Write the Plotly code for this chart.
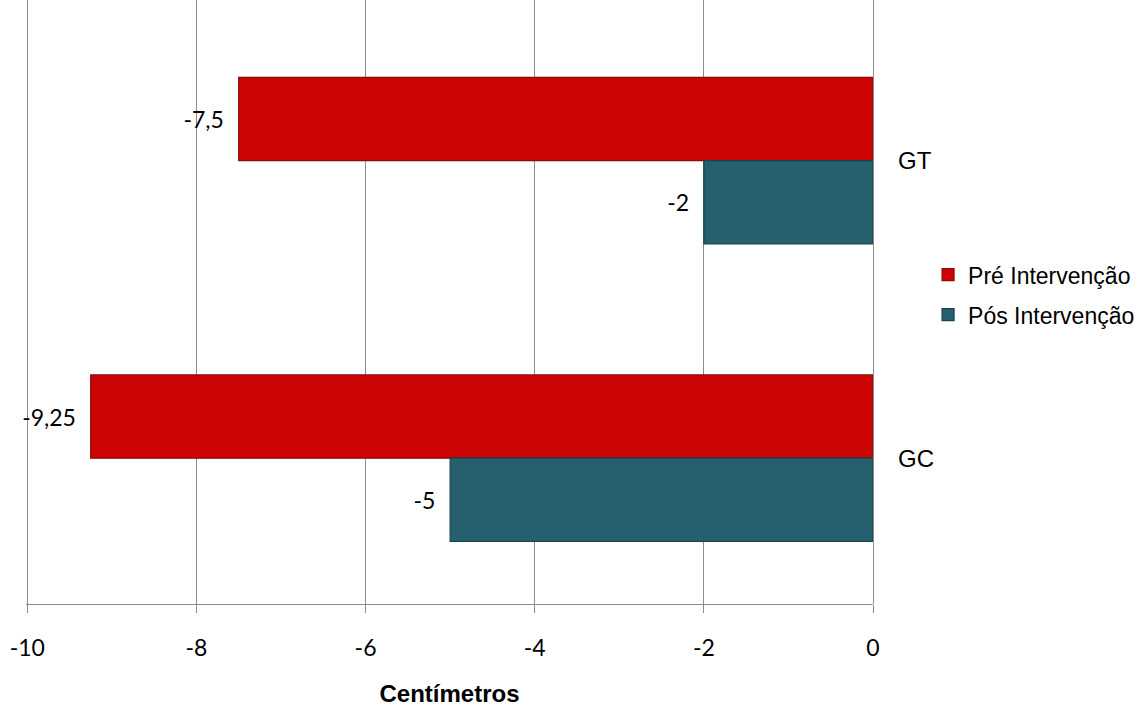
import plotly.graph_objects as go

# Chart data
grupos = ["GT", "GC"]
pre_intervencao = [-7.5, -9.25]
pos_intervencao = [-2, -5]
series_nomes = ["Pré Intervenção", "Pós Intervenção"]
x_ticks = [-10, -8, -6, -4, -2, 0]


def rotulo(v):
    # decimal comma, with some breathing room before the bar end
    return ("%g" % v).replace(".", ",") + "\u00a0\u00a0"


num_font = dict(family="Lato, Open Sans, sans-serif", size=23, color="#000000")
arial = "Liberation Sans, Arial, sans-serif"

fig = go.Figure()
fig.add_trace(go.Bar(
    y=grupos, x=pre_intervencao, orientation="h", name=series_nomes[0],
    legendgroup="pre",
    marker=dict(color="#CC0404", line=dict(color="#8E0A0A", width=1.2)),
    text=[rotulo(v) for v in pre_intervencao], textposition="outside",
    textfont=num_font, cliponaxis=False, constraintext="none",
))
fig.add_trace(go.Bar(
    y=grupos, x=pos_intervencao, orientation="h", name=series_nomes[1],
    legendgroup="pos",
    marker=dict(color="#265F6E", line=dict(color="#1A434E", width=1.2)),
    text=[rotulo(v) for v in pos_intervencao], textposition="outside",
    textfont=num_font, cliponaxis=False, constraintext="none",
))

fig.update_layout(
    width=1147, height=707,
    margin=dict(l=26, r=274, t=0, b=103),
    paper_bgcolor="white", plot_bgcolor="white",
    barmode="group", bargap=0.44, bargroupgap=0,
    showlegend=True,
    legend=dict(x=1.065, y=0.512, xanchor="left", yanchor="middle",
                font=dict(family=arial, size=23, color="#000000"),
                tracegroupgap=7, itemwidth=30),
    xaxis=dict(
        range=[-10.015, 0], tickvals=x_ticks, ticktext=[str(t) for t in x_ticks],
        showgrid=True, gridcolor="#8C8C8C", gridwidth=1.3,
        zeroline=True, zerolinecolor="#8C8C8C", zerolinewidth=1.3,
        showline=True, linecolor="#8C8C8C", linewidth=1.3,
        ticks="outside", ticklen=8, tickcolor="#8C8C8C", tickwidth=1.3,
        tickfont=num_font, ticklabelstandoff=15,
        title=dict(text="<b>Centímetros</b>",
                   font=dict(family=arial, size=24, color="#000000"), standoff=27),
    ),
    yaxis=dict(
        categoryorder="array", categoryarray=grupos,
        range=[1.49, -0.54], side="right",
        showgrid=False, zeroline=False, showline=False, ticks="",
        tickfont=dict(family=arial, size=24, color="#000000"),
        ticklabelstandoff=24,
    ),
)

fig.write_html("out.html")
